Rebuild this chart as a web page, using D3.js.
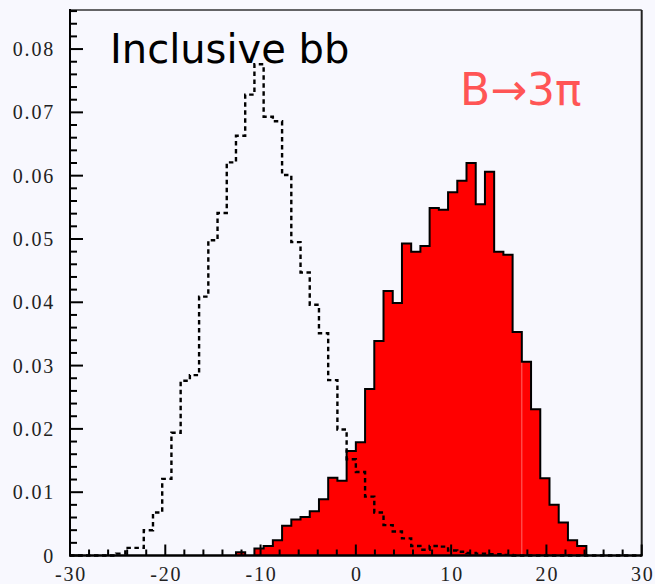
<!DOCTYPE html>
<html>
<head>
<meta charset="utf-8">
<script src="https://cdn.jsdelivr.net/npm/d3@7"></script>
<style>
  html, body { margin: 0; padding: 0; background: #f8f8fe; }
  svg { display: block; }
</style>
</head>
<body>
<svg id="chart" width="655" height="584"></svg>
<script>
// Histogram binning: 62 equal bins over the x range
const xRange = [-30, 30];
const binCount = 62;

// Normalised distributions, one value per bin (left to right)
const signalB3pi = [
  0, 0, 0, 0, 0, 0, 0, 0, 0, 0,
  0, 0, 0, 0, 0, 0, 0, 0, 0.0005, 0,
  0.0011, 0.0015, 0.0024, 0.0047, 0.0057, 0.0061, 0.0070, 0.0089, 0.0123, 0.0118,
  0.0165, 0.0179, 0.0263, 0.0339, 0.0418, 0.0399, 0.0493, 0.0480, 0.0489, 0.0549,
  0.0546, 0.0574, 0.0592, 0.0620, 0.0555, 0.0606, 0.0480, 0.0475, 0.0353, 0.0306,
  0.0231, 0.0122, 0.0080, 0.0052, 0.0024, 0.0015, 0, 0, 0, 0,
  0, 0
];
const inclusiveBB = [
  0, 0, 0, 0, 0, 0.0003, 0.0012, 0.0012, 0.0040, 0.0068,
  0.0121, 0.0194, 0.0276, 0.0285, 0.0409, 0.0498, 0.0541, 0.0621, 0.0663, 0.0728,
  0.0776, 0.0693, 0.0686, 0.0601, 0.0495, 0.0447, 0.0396, 0.0351, 0.0277, 0.0199,
  0.0152, 0.0132, 0.0093, 0.0068, 0.0048, 0.0038, 0.0027, 0.0015, 0.0009, 0.0015,
  0.0014, 0.0008, 0.0006, 0.0004, 0.0003, 0.0002, 0.0002, 0.0001, 0, 0,
  0, 0, 0, 0, 0, 0, 0, 0, 0, 0,
  0, 0
];

// Axis ticks and labels
const xMajorTicks = [-30, -20, -10, 0, 10, 20, 30];
const xTickLabels = ["-30", "-20", "-10", "0", "10", "20", "30"];
const yMajorTicks = [0, 0.01, 0.02, 0.03, 0.04, 0.05, 0.06, 0.07, 0.08];
const yTickLabels = ["0", "0.01", "0.02", "0.03", "0.04", "0.05", "0.06", "0.07", "0.08"];
const yMax = 0.08617;

const titleText = "Inclusive bb";
const signalText = "B\u21923\u03C0";

const W = 655, H = 584;
const margin = { left: 70, right: 13.3, top: 10, bottom: 28.5 };
const x0 = margin.left, x1 = W - margin.right;
const y0 = H - margin.bottom, y1 = margin.top;

const svg = d3.select("#chart");
svg.append("rect").attr("width", W).attr("height", H).attr("fill", "#f8f8fe");

const x = d3.scaleLinear().domain(xRange).range([x0, x1]);
const y = d3.scaleLinear().domain([0, yMax]).range([y0, y1]);

const edges = d3.range(binCount + 1).map(i => xRange[0] + i * (xRange[1] - xRange[0]) / binCount);

function stepPoints(values) {
  const pts = [[edges[0], 0]];
  values.forEach((v, i) => { pts.push([edges[i], v]); pts.push([edges[i + 1], v]); });
  pts.push([edges[binCount], 0]);
  return pts;
}
const stepLine = d3.line().x(d => x(d[0])).y(d => y(d[1]));

// Filled signal histogram
svg.append("path")
  .attr("d", stepLine(stepPoints(signalB3pi)) + "Z")
  .attr("fill", "#ff0000")
  .attr("stroke", "#000")
  .attr("stroke-width", 2)
  .attr("stroke-linejoin", "miter");

// faint seam between two filled blocks
const seamBin = 49;
svg.append("line")
  .attr("x1", x(edges[seamBin])).attr("x2", x(edges[seamBin]))
  .attr("y1", y(0)).attr("y2", y(Math.min(signalB3pi[seamBin], signalB3pi[seamBin - 1])) + 1)
  .attr("stroke", "#ff6a6a").attr("stroke-width", 1);

// Dashed background histogram
svg.append("path")
  .attr("d", stepLine(stepPoints(inclusiveBB)))
  .attr("fill", "none")
  .attr("stroke", "#000")
  .attr("stroke-width", 2.4)
  .attr("stroke-dasharray", "4.5,3.5");

// Frame
svg.append("line").attr("x1", x0).attr("x2", x1).attr("y1", y1).attr("y2", y1)
  .attr("stroke", "#333").attr("stroke-width", 1.5);
svg.append("line").attr("x1", x1).attr("x2", x1).attr("y1", y1).attr("y2", y0)
  .attr("stroke", "#222").attr("stroke-width", 2);

// X axis: ticks point inward
const xMinor = d3.range(xRange[0], xRange[1] + 0.001, 2);
const xAxis = svg.append("g");
xAxis.selectAll("line.minor").data(xMinor).join("line")
  .attr("x1", d => x(d)).attr("x2", d => x(d))
  .attr("y1", y0).attr("y2", d => xMajorTicks.includes(d) ? y0 - 11 : y0 - 6)
  .attr("stroke", "#000").attr("stroke-width", 2);
xAxis.append("line").attr("x1", x0 - 1).attr("x2", x1 + 1).attr("y1", y0).attr("y2", y0)
  .attr("stroke", "#000").attr("stroke-width", 2);
xAxis.selectAll("text").data(xMajorTicks).join("text")
  .attr("x", d => x(d) + 1)
  .attr("y", 580.5)
  .attr("text-anchor", "middle")
  .attr("font-family", "'Liberation Serif', 'Times New Roman', serif")
  .attr("font-size", 20)
  .attr("letter-spacing", 1.8)
  .attr("fill", "#222")
  .text((d, i) => xTickLabels[i]);

// Y axis: ticks point inward
const yMinor = d3.range(0, yMax, 0.002);
const yAxis = svg.append("g");
yAxis.selectAll("line").data(yMinor).join("line")
  .attr("x1", x0).attr("x2", d => (Math.round(d * 1000) % 10 === 0) ? x0 + 13 : x0 + 7)
  .attr("y1", d => y(d)).attr("y2", d => y(d))
  .attr("stroke", "#000").attr("stroke-width", 2);
yAxis.append("line").attr("x1", x0).attr("x2", x0).attr("y1", y1 - 1).attr("y2", y0 + 1)
  .attr("stroke", "#000").attr("stroke-width", 2);
yAxis.selectAll("text").data(yMajorTicks).join("text")
  .attr("x", 55)
  .attr("y", d => y(d))
  .attr("dy", "0.35em")
  .attr("text-anchor", "end")
  .attr("font-family", "'Liberation Serif', 'Times New Roman', serif")
  .attr("font-size", 20)
  .attr("letter-spacing", 1.8)
  .attr("fill", "#222")
  .text((d, i) => yTickLabels[i]);

// Annotations
svg.append("text")
  .attr("x", 110).attr("y", 63)
  .attr("font-family", "'DejaVu Sans', sans-serif")
  .attr("font-size", 40)
  .attr("fill", "#000")
  .text(titleText);
svg.append("text")
  .attr("x", 460).attr("y", 105)
  .attr("font-family", "'DejaVu Sans', sans-serif")
  .attr("font-size", 44)
  .attr("fill", "#ff5555")
  .text(signalText);
</script>
</body>
</html>
